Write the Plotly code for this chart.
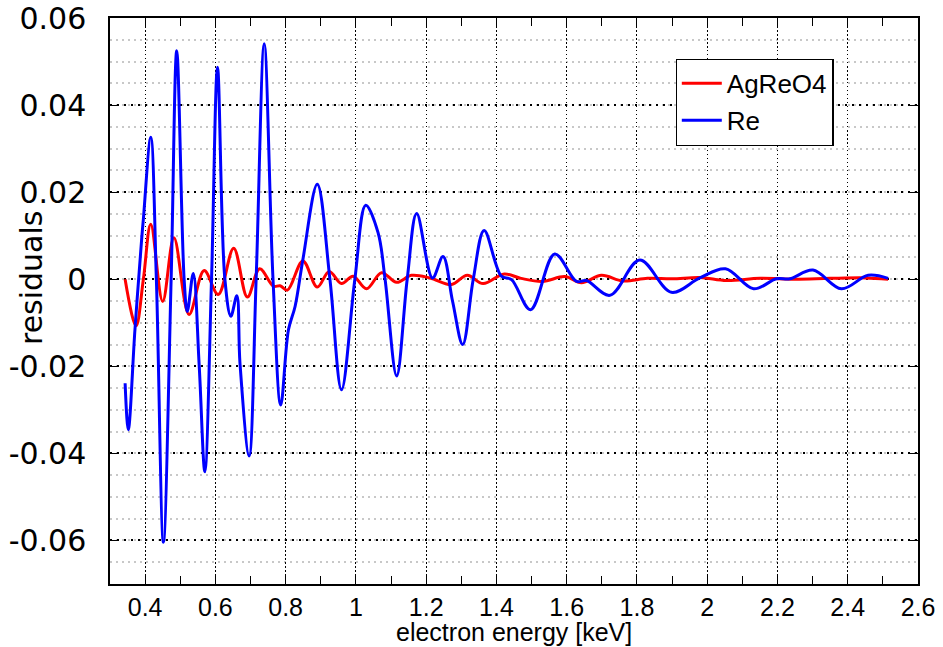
import plotly.graph_objects as go

# Re residuals
re_x = [0.343, 0.352, 0.371, 0.390, 0.395, 0.416, 0.432, 0.452, 0.474, 0.490, 0.511, 0.520, 0.537,
        0.554, 0.570, 0.589, 0.606, 0.627, 0.644, 0.661, 0.670, 0.696, 0.716, 0.739, 0.764, 0.786,
        0.808, 0.827, 0.849, 0.890, 0.926, 0.959, 0.997, 1.028, 1.063, 1.083, 1.116, 1.146, 1.173,
        1.218, 1.248, 1.275, 1.304, 1.334, 1.365, 1.414, 1.443, 1.497, 1.566, 1.628, 1.656, 1.723,
        1.808, 1.898, 1.979, 2.052, 2.132, 2.197, 2.235, 2.301, 2.382, 2.458, 2.515]
re_y = [-0.0239, -0.0346, -0.0116, 0.0091, 0.0138, 0.0326, 0.0, -0.0604, 0.0, 0.0525, 0.0, -0.0074, 0.0013,
        -0.0200, -0.0442, 0.0, 0.0487, 0.0, -0.0085, -0.0038, -0.0193, -0.0406, 0.0, 0.0541, 0.0, -0.0289,
        -0.0116, -0.0062, 0.0045, 0.0218, 0.0, -0.0254, 0.0, 0.0170, 0.0107, 0.0, -0.0222, 0.0, 0.0151,
        0.0003, 0.0052, -0.0050, -0.0150, 0.0, 0.0112, 0.0007, -0.0001, -0.0070, 0.0058, -0.0005, -0.0003, -0.0037,
        0.0044, -0.0030, 0.0003, 0.0024, -0.0022, 0.0001, 0.0001, 0.0021, -0.0022, 0.0009, 0.0002]

# AgReO4 residuals
ag_x = [0.343, 0.374, 0.395, 0.416, 0.450, 0.482, 0.525, 0.568, 0.608, 0.652, 0.691, 0.726, 0.765,
        0.784, 0.805, 0.849, 0.890, 0.924, 0.959, 0.992, 1.030, 1.073, 1.116, 1.158, 1.211, 1.272,
        1.317, 1.362, 1.422, 1.470, 1.531, 1.595, 1.642, 1.699, 1.760, 1.830, 1.900, 1.980, 2.055,
        2.150, 2.250, 2.350, 2.450, 2.515]
ag_y = [0.0, -0.0107, 0.0, 0.0126, -0.0051, 0.0095, -0.0081, 0.0020, -0.0035, 0.0071, -0.0041, 0.0024, -0.0016,
        -0.0015, -0.0025, 0.0042, -0.0018, 0.0018, -0.0010, 0.0007, -0.0022, 0.0015, -0.0007, 0.0009, 0.0003, -0.0012,
        0.0009, -0.0010, 0.0012, 0.0002, -0.0005, 0.0006, -0.0008, 0.0009, -0.0004, 0.0002, 0.0001, 0.0004, -0.0003,
        0.0002, 0.0, 0.0002, 0.0003, 0.0]

x_ticks = [0.4, 0.6, 0.8, 1.0, 1.2, 1.4, 1.6, 1.8, 2.0, 2.2, 2.4, 2.6]
x_labels = ["0.4", "0.6", "0.8", "1", "1.2", "1.4", "1.6", "1.8", "2", "2.2", "2.4", "2.6"]
y_ticks = [0.06, 0.04, 0.02, 0.0, -0.02, -0.04, -0.06]
y_labels = ["0.06", "0.04", "0.02", "0", "-0.02", "-0.04", "-0.06"]

font = "Liberation Sans, Arial, sans-serif"
wide = "DejaVu Sans, Liberation Sans, sans-serif"

fig = go.Figure()
fig.add_trace(go.Scatter(x=ag_x, y=ag_y, mode="lines", name="AgReO4",
                         line=dict(color="#ff0000", width=3, shape="spline", smoothing=1)))
fig.add_trace(go.Scatter(x=re_x, y=re_y, mode="lines", name="Re",
                         line=dict(color="#0000ff", width=3, shape="spline", smoothing=1)))

fig.update_layout(
    width=943, height=647,
    margin=dict(l=110, r=25, t=18, b=63, autoexpand=False),
    plot_bgcolor="white", paper_bgcolor="white",
    showlegend=True,
    legend=dict(x=0.700, y=0.928, xanchor="left", yanchor="top",
                bgcolor="white", bordercolor="black", borderwidth=1.2,
                font=dict(family=font, size=26, color="black"),
                tracegroupgap=0, itemwidth=40),
    xaxis=dict(
        range=[0.3, 2.6], automargin=False,
        tickvals=x_ticks, ticktext=x_labels,
        tickfont=dict(family=font, size=25, color="black"),
        ticks="inside", ticklen=8, tickcolor="black",
        ticklabeloverflow="allow",
        showline=True, linecolor="black", linewidth=1.5, mirror="allticks",
        showgrid=True, gridcolor="black", gridwidth=1, griddash="1.5px,2.5px",
        zeroline=False,
        minor=dict(dtick=0.1, ticks="inside", ticklen=8, tickcolor="black", showgrid=False),
    ),
    yaxis=dict(
        range=[-0.07, 0.06], automargin=False,
        tickvals=y_ticks, ticktext=y_labels,
        tickfont=dict(family=wide, size=30, color="black"),
        ticks="inside", ticklen=8, tickcolor="black",
        ticklabelstandoff=16, ticklabeloverflow="allow",
        showline=True, linecolor="black", linewidth=1.5, mirror="allticks",
        showgrid=True, gridcolor="black", gridwidth=1.5, griddash="2px,5px",
        zeroline=False,
        minor=dict(dtick=0.005, showgrid=True, gridcolor="#c8c8c8", gridwidth=1.5, griddash="2px,4px"),
    ),
    annotations=[
        dict(text="residuals", textangle=-90, xref="paper", yref="paper",
             x=-0.098, y=0.542, xanchor="center", yanchor="middle", showarrow=False,
             font=dict(family=wide, size=30, color="black")),
        dict(text="electron energy [keV]", xref="paper", yref="paper",
             x=0.5, y=-0.085, xanchor="center", yanchor="middle", showarrow=False,
             font=dict(family=font, size=25, color="black")),
    ],
)

# drop the default 8px page margin so the figure fills the window, no modebar
fig.write_html("out.html", config={"displayModeBar": False},
               post_script="document.body.style.margin='0';")
